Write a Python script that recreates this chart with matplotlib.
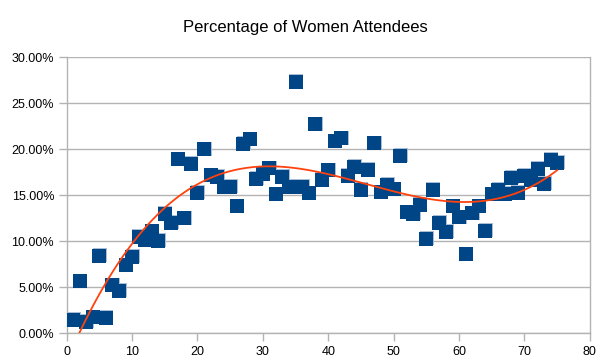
import numpy as np
import matplotlib
matplotlib.use('Agg')
import matplotlib.pyplot as plt
from matplotlib.ticker import FuncFormatter

plt.rcParams['font.family'] = ['Liberation Sans', 'DejaVu Sans']

# session number vs share of women attendees (%)
sessions = list(range(1, 76))
women_pct = [1.5, 5.65, 1.25, 1.75, 8.4, 1.7, 5.2, 4.65, 7.4, 8.3,
             10.5, 10.1, 11.1, 10.05, 13.0, 12.0, 18.9, 12.5, 18.4, 15.25,
             20.0, 17.2, 17.0, 15.85, 15.95, 13.8, 20.6, 21.1, 16.8, 17.3,
             17.95, 15.1, 17.0, 15.95, 27.35, 15.95, 15.2, 22.7, 16.7, 17.7,
             20.85, 21.2, 17.1, 18.1, 15.6, 17.8, 20.65, 15.35, 16.15, 15.65,
             19.3, 13.15, 13.0, 13.95, 10.25, 15.6, 12.0, 11.05, 13.8, 12.6,
             8.6, 13.05, 13.8, 11.15, 15.1, 15.6, 15.15, 16.9, 15.3, 17.1,
             16.7, 17.9, 16.25, 18.85, 18.55]

x = np.array(sessions, dtype=float)
y = np.array(women_pct) / 100.0

fig = plt.figure(figsize=(6.1, 3.64), dpi=100)
ax = fig.add_axes([0.1093, 0.0843, 0.8577, 0.7583])

ax.set_axisbelow(True)
ax.grid(True, axis='y', color='#b3b3b3', linewidth=1)

# light edge behind each square, like the office chart
ax.scatter(x + 0.08, y + 0.0006, marker='s', s=98, color='#a9bdd6', zorder=2, linewidths=0)
ax.scatter(x, y, marker='s', s=95, color='#004586', zorder=3, linewidths=0)

# cubic trend line
coef = np.polyfit(x, y, 3)
xt = np.linspace(x.min(), x.max(), 300)
ax.plot(xt, np.polyval(coef, xt), color='#ff420e', linewidth=1.3, zorder=4)

ax.set_xlim(0, 80)
ax.set_ylim(0, 0.30)
ax.set_xticks(range(0, 81, 10))
ax.set_yticks(np.arange(0, 0.301, 0.05))
ax.yaxis.set_major_formatter(FuncFormatter(lambda v, p: '%.2f%%' % (v * 100)))

for s in ax.spines.values():
    s.set_color('#b3b3b3')
    s.set_linewidth(1)
ax.spines['top'].set_visible(False)
ax.tick_params(axis='both', colors='#b3b3b3', labelcolor='black', length=6,
               width=1, labelsize=9, pad=3)

fig.suptitle('Percentage of Women Attendees', fontsize=12, y=0.945)

fig.savefig('out.png', dpi=100)
